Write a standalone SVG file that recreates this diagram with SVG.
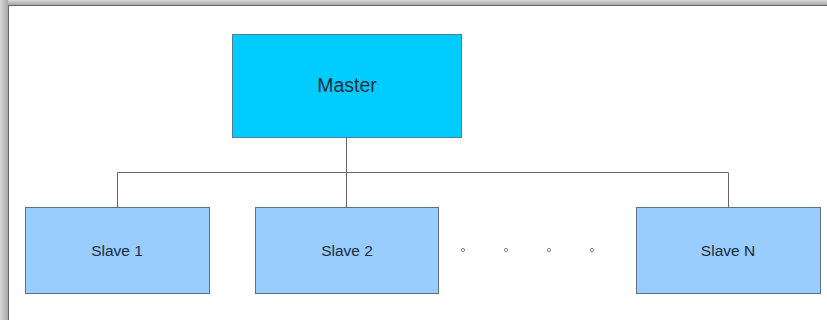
<svg xmlns="http://www.w3.org/2000/svg" width="827" height="320" viewBox="0 0 827 320">
  <defs>
    <linearGradient id="shTop" x1="0" y1="0" x2="0" y2="1">
      <stop offset="0" stop-color="#d8d8d8"/>
      <stop offset="1" stop-color="#a8a8a8"/>
    </linearGradient>
    <linearGradient id="shLeft" x1="0" y1="0" x2="1" y2="0">
      <stop offset="0" stop-color="#d8d8d8"/>
      <stop offset="1" stop-color="#a8a8a8"/>
    </linearGradient>
  </defs>
  <style>
    .master { fill: #00ccff; stroke: #4f7f93; stroke-width: 1; }
    .slave { fill: #99ccff; stroke: #5f7080; stroke-width: 1; }
    .label { font-family: "Liberation Sans", Arial, sans-serif; fill: #1b2b3b; text-anchor: middle; }
    .conn { fill: none; stroke: #666666; stroke-width: 1; }
    .dot { fill: #ffffff; stroke: #808080; stroke-width: 1; }
  </style>
  <rect x="0" y="0" width="827" height="320" fill="#ffffff"/>
  <!-- page shadow / border -->
  <rect x="0" y="0" width="827" height="5" fill="url(#shTop)"/>
  <rect x="0" y="0" width="8" height="320" fill="url(#shLeft)"/>
  <line x1="8" y1="5.5" x2="827" y2="5.5" stroke="#666666" stroke-width="1"/>
  <line x1="8.5" y1="5" x2="8.5" y2="320" stroke="#666666" stroke-width="1"/>

  <g id="connectors">
    <path class="conn" d="M346.5 137.5 V172.5"/>
    <path class="conn" d="M117.5 207 V172.5 H728.5 V207"/>
    <path class="conn" d="M346.5 172.5 V207"/>
  </g>

  <g id="master">
    <rect class="master" x="232.5" y="34.5" width="229" height="103"/>
    <text class="label" x="347" y="92" font-size="19.5">Master</text>
  </g>
  <g id="slave1">
    <rect class="slave" x="25.5" y="207.5" width="184" height="86"/>
    <text class="label" x="117" y="256" font-size="15.5">Slave 1</text>
  </g>
  <g id="slave2">
    <rect class="slave" x="255.5" y="207.5" width="183" height="86"/>
    <text class="label" x="347" y="256" font-size="15.5">Slave 2</text>
  </g>
  <g id="slaveN">
    <rect class="slave" x="636.5" y="207.5" width="184" height="86"/>
    <text class="label" x="728" y="256" font-size="15.5">Slave N</text>
  </g>
  <g id="ellipsis">
    <circle class="dot" cx="463" cy="250" r="1.6"/>
    <circle class="dot" cx="506" cy="250" r="1.6"/>
    <circle class="dot" cx="549" cy="250" r="1.6"/>
    <circle class="dot" cx="592" cy="250" r="1.6"/>
  </g>
</svg>
